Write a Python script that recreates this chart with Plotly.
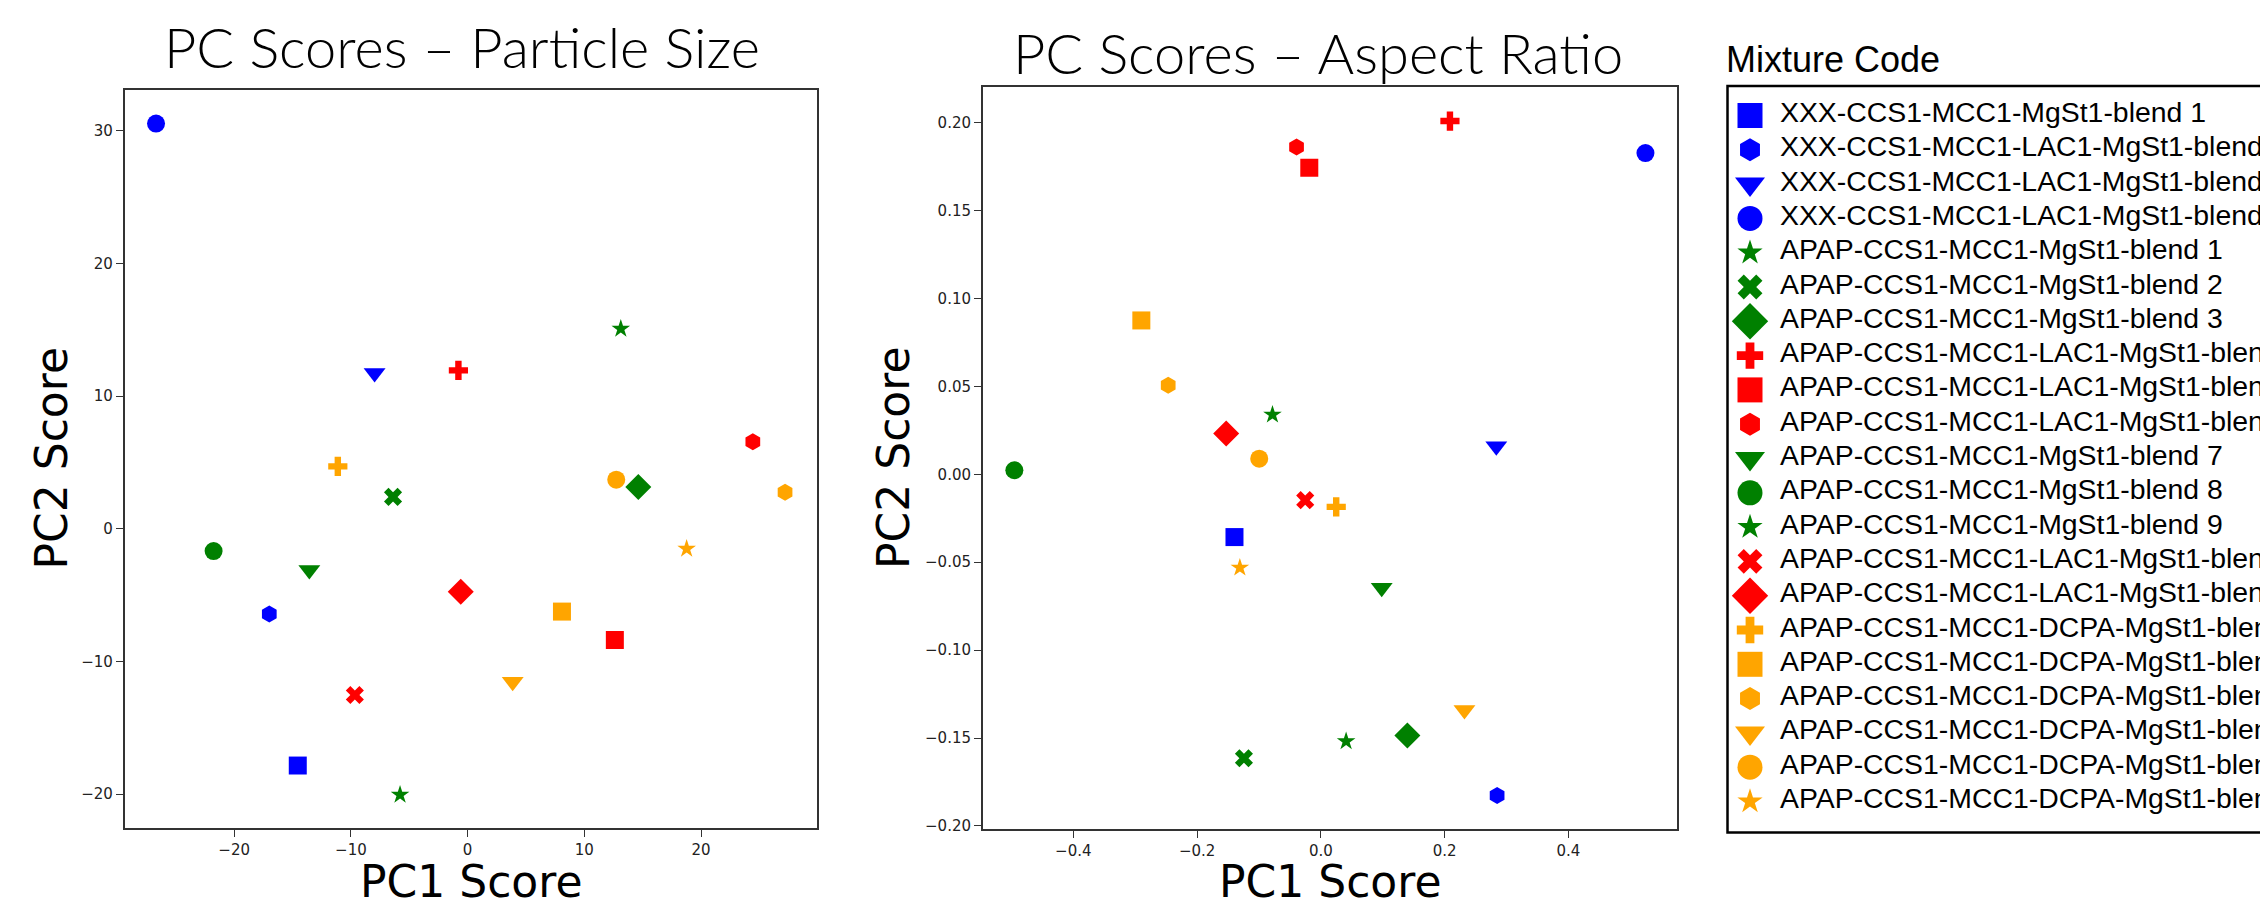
import plotly.graph_objects as go

W, H = 2260, 907

# Mixture codes (legend order)
mixture_codes = [
    "XXX-CCS1-MCC1-MgSt1-blend 1",
    "XXX-CCS1-MCC1-LAC1-MgSt1-blend 2",
    "XXX-CCS1-MCC1-LAC1-MgSt1-blend 3",
    "XXX-CCS1-MCC1-LAC1-MgSt1-blend 4",
    "APAP-CCS1-MCC1-MgSt1-blend 1",
    "APAP-CCS1-MCC1-MgSt1-blend 2",
    "APAP-CCS1-MCC1-MgSt1-blend 3",
    "APAP-CCS1-MCC1-LAC1-MgSt1-blend 4",
    "APAP-CCS1-MCC1-LAC1-MgSt1-blend 5",
    "APAP-CCS1-MCC1-LAC1-MgSt1-blend 6",
    "APAP-CCS1-MCC1-MgSt1-blend 7",
    "APAP-CCS1-MCC1-MgSt1-blend 8",
    "APAP-CCS1-MCC1-MgSt1-blend 9",
    "APAP-CCS1-MCC1-LAC1-MgSt1-blend 10",
    "APAP-CCS1-MCC1-LAC1-MgSt1-blend 11",
    "APAP-CCS1-MCC1-DCPA-MgSt1-blend 12",
    "APAP-CCS1-MCC1-DCPA-MgSt1-blend 13",
    "APAP-CCS1-MCC1-DCPA-MgSt1-blend 14",
    "APAP-CCS1-MCC1-DCPA-MgSt1-blend 15",
    "APAP-CCS1-MCC1-DCPA-MgSt1-blend 16",
    "APAP-CCS1-MCC1-DCPA-MgSt1-blend 17",
]

# PC scores - particle size
ps_pc1 = [-14.55, -16.99, -7.97, -26.69, 13.12, -6.39, 14.62, -0.79, 12.61, 24.43,
          -13.56, -21.76, -5.79, -9.66, -0.59, -11.12, 8.08, 27.19, 3.86, 12.73, 18.76]
ps_pc2 = [-17.85, -6.42, 11.75, 30.56, 15.09, 2.41, 3.16, 11.95, -8.38, 6.56,
          -3.11, -1.68, -20.05, -12.53, -4.74, 4.71, -6.24, 2.75, -11.53, 3.71, -1.50]

# PC scores - aspect ratio
ar_pc1 = [-0.1396, 0.2848, 0.2835, 0.5245, -0.0782, -0.1243, 0.1398, 0.2086, -0.0187, -0.0393,
          0.0983, -0.4953, 0.0408, -0.0253, -0.1530, 0.0248, -0.2901, -0.2467, 0.2320, -0.0996, -0.1309]
ar_pc2 = [-0.0357, -0.1827, 0.0159, 0.1827, 0.0339, -0.1615, -0.1486, 0.2009, 0.1743, 0.1862,
          -0.0645, 0.0023, -0.1518, -0.0147, 0.0232, -0.0185, 0.0875, 0.0506, -0.1340, 0.0089, -0.0531]

ps_xticks = [-20, -10, 0, 10, 20]
ps_yticks = [-20, -10, 0, 10, 20, 30]
ar_xticks = [-0.4, -0.2, 0.0, 0.2, 0.4]
ar_yticks = [-0.20, -0.15, -0.10, -0.05, 0.00, 0.05, 0.10, 0.15, 0.20]

# Marker styling per mixture
BLUE, GREEN, RED, ORANGE = "#0000ff", "#008000", "#ff0000", "#ffa500"
colors = [BLUE, BLUE, BLUE, BLUE, GREEN, GREEN, GREEN, RED, RED, RED,
          GREEN, GREEN, GREEN, RED, RED, ORANGE, ORANGE, ORANGE, ORANGE, ORANGE, ORANGE]
symbols = ["square", "hexagon", "triangle-down", "circle", "star", "x", "diamond",
           "cross", "square", "hexagon", "triangle-down", "circle", "star", "x", "diamond",
           "cross", "square", "hexagon", "triangle-down", "circle", "star"]
symbol_size = {"square": 18, "circle": 18, "diamond": 20, "hexagon": 17,
               "triangle-down": 19, "cross": 16, "x": 16, "star": 14}
sizes = [symbol_size[s] for s in symbols]
legend_sizes = [round(s * 1.38) for s in sizes]


def px_x(p):
    return p / W


def px_y(p):
    return 1 - p / H


def padded(vals, frac=0.05):
    lo, hi = min(vals), max(vals)
    pad = (hi - lo) * frac
    return [lo - pad, hi + pad]


fig = go.Figure()

fig.add_trace(go.Scatter(
    x=ps_pc1, y=ps_pc2, mode="markers", xaxis="x", yaxis="y",
    text=mixture_codes, hoverinfo="text+x+y",
    marker=dict(color=colors, symbol=symbols, size=sizes, opacity=1, line=dict(width=0)),
    showlegend=False,
))
fig.add_trace(go.Scatter(
    x=ar_pc1, y=ar_pc2, mode="markers", xaxis="x2", yaxis="y2",
    text=mixture_codes, hoverinfo="text+x+y",
    marker=dict(color=colors, symbol=symbols, size=sizes, opacity=1, line=dict(width=0)),
    showlegend=False,
))

# Legend panel drawn on its own pixel-scaled axes
row0_marker, row0_text, row_step = 115.5, 112.0, 34.3
leg_rows = list(range(len(mixture_codes)))
fig.add_trace(go.Scatter(
    x=[1750] * len(leg_rows), y=[row0_marker + row_step * i for i in leg_rows],
    mode="markers", xaxis="x3", yaxis="y3", cliponaxis=False, hoverinfo="skip",
    marker=dict(color=colors, symbol=symbols, size=legend_sizes, opacity=1, line=dict(width=0)),
    showlegend=False,
))

axis_common = dict(
    showgrid=False, zeroline=False, showline=True, mirror=True,
    linecolor="#333333", linewidth=1.6,
    ticks="outside", ticklen=7, tickwidth=1.4, tickcolor="#333333",
    tickfont=dict(family="DejaVu Sans", size=15, color="#222222"),
)

left_dom_x = [px_x(124.6), px_x(816.5)]
left_dom_y = [px_y(828.3), px_y(90)]
right_dom_x = [px_x(982.8), px_x(1677)]
right_dom_y = [px_y(829.3), px_y(87.3)]

fig.update_layout(
    width=W, height=H,
    margin=dict(l=0, r=0, t=0, b=0, autoexpand=False),
    paper_bgcolor="white", plot_bgcolor="white",
    showlegend=False,
    xaxis=dict(domain=left_dom_x, anchor="y", range=padded(ps_pc1),
               tickvals=ps_xticks, **axis_common),
    yaxis=dict(domain=left_dom_y, anchor="x", range=padded(ps_pc2),
               tickvals=ps_yticks, **axis_common),
    xaxis2=dict(domain=right_dom_x, anchor="y2", range=padded(ar_pc1),
                tickvals=ar_xticks, tickformat=".1f", **axis_common),
    yaxis2=dict(domain=right_dom_y, anchor="x2", range=padded(ar_pc2),
                tickvals=ar_yticks, tickformat=".2f", **axis_common),
    xaxis3=dict(domain=[px_x(1700), 1], anchor="y3", range=[1700, W], visible=False, fixedrange=True),
    yaxis3=dict(domain=[0, 1], anchor="x3", range=[H, 0], visible=False, fixedrange=True),
)

annotations = []
title_font = dict(family="Lato", size=56, color="black", weight=300)
annotations.append(dict(text="PC Scores – Particle Size", x=px_x(462), y=px_y(46),
                        xref="paper", yref="paper", xanchor="center", yanchor="middle",
                        showarrow=False, font=title_font))
annotations.append(dict(text="PC Scores – Aspect Ratio", x=px_x(1318), y=px_y(52),
                        xref="paper", yref="paper", xanchor="center", yanchor="middle",
                        showarrow=False, font=title_font))

axis_title_font = dict(family="DejaVu Sans", size=44, color="black")
for cx, text in [(470.5, "PC1 Score"), (1330, "PC1 Score")]:
    annotations.append(dict(text=text, x=px_x(cx), y=px_y(881), xref="paper", yref="paper",
                            xanchor="center", yanchor="middle", showarrow=False,
                            font=axis_title_font))
for cx, cy in [(50.5, 459), (893, 458)]:
    annotations.append(dict(text="PC2 Score", x=px_x(cx), y=px_y(cy), xref="paper", yref="paper",
                            xanchor="center", yanchor="middle", textangle=-90, showarrow=False,
                            font=axis_title_font))

annotations.append(dict(text="Mixture Code", x=px_x(1724), y=px_y(60), xref="paper", yref="paper",
                        xanchor="left", yanchor="middle", showarrow=False,
                        font=dict(family="Liberation Sans", size=36, color="black")))

for i, label in zip(leg_rows, mixture_codes):
    annotations.append(dict(text=label, x=1778, y=row0_text + row_step * i, xref="x3", yref="y3",
                            xanchor="left", yanchor="middle", showarrow=False,
                            font=dict(family="Liberation Sans", size=28.4, color="black")))

fig.update_layout(annotations=annotations)

# Legend frame, open to the right edge
fig.add_shape(type="rect", xref="paper", yref="paper",
              x0=px_x(1727.5), x1=px_x(2300), y0=px_y(832.5), y1=px_y(86),
              line=dict(color="black", width=2.5), fillcolor="rgba(0,0,0,0)", layer="above")

fig.write_html("out.html")
